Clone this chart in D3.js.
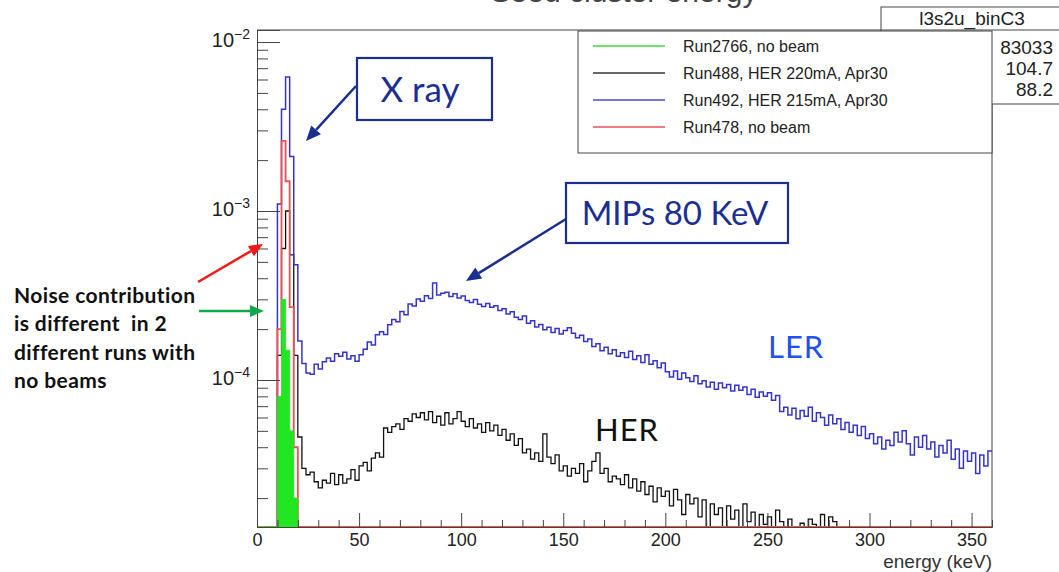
<!DOCTYPE html>
<html><head><meta charset="utf-8">
<script src="https://cdn.jsdelivr.net/npm/d3@7"></script>
<style>body{margin:0;background:#fff;} svg{display:block;font-family:"Liberation Sans",Arial,sans-serif;}</style>
</head><body>
<svg id="c" width="1059" height="572"></svg>
<script>
// ---------------- data (bin width 2 keV, values in units of 1e-5) ----------------
const binWidth = 2;
const nBins = 180;
const unit = 1e-5;
const energyDomain = [0, 360];
const countDomain = [1.349e-5, 1.178e-2];

// Run2766, no beam (green, filled)
const run2766 = [0,0,0,0,0, 8,30,15,5,2];
// Run478, no beam (red)
const run478 = [0,0,0,0,0, 20,260,150,27,4];
// Run488, HER 220mA, Apr30 (black)
const run488 = [0,0,0,0,0, 14,60,100,55,14,
 4.6,3.0,2.75,2.85,2.5,2.3,2.55,2.45,2.8,2.4,
 2.75,2.45,2.6,2.95,2.55,3.1,3.25,2.9,3.45,3.7,
 3.5,5.2,4.9,5.3,5.5,5.1,5.9,5.7,6.3,6.0,
 6.4,5.8,6.5,5.6,6.1,5.4,6.4,5.5,5.9,6.5,
 5.7,5.3,5.9,5.2,5.5,4.9,5.6,5.0,5.4,4.7,
 5.1,4.4,4.8,4.1,4.5,3.7,3.9,3.4,3.7,3.3,
 4.8,3.5,3.2,3.6,2.9,3.1,2.7,3.0,2.8,3.2,
 2.5,2.9,3.3,3.7,2.8,3.0,2.5,2.7,2.6,2.4,
 2.75,2.3,2.6,2.2,2.5,2.1,2.35,1.9,2.3,2.05,
 2.2,1.8,2.25,1.95,1.6,2.1,1.85,2.0,1.55,1.95,
 1.2,1.85,1.6,1.75,1.1,1.8,1.5,1.7,1.2,1.85,
 1.45,1.65,1.1,1.6,1.4,1.55,1.1,1.7,1.45,1.0,
 1.5,1.1,0,1.42,1.0,1.5,1.4,1.0,1.6,1.1,
 1.55,1.45];
// Run492, HER 215mA, Apr30 (blue, labelled LER)
const run492 = [0,0,0,0,0, 110,400,620,210,48,
 17,12.5,11,10.8,12.4,11.6,12.8,13.5,12.9,14.3,
 13.8,14.6,13.3,13.9,12.9,14.1,15.2,16.8,16.1,18.5,
 19.3,18.6,21.2,22.8,22.1,25.4,24.3,28.2,27.4,30.1,
 29.2,31.5,30.4,37.5,31.8,32.6,33.1,31.2,32.4,30.6,
 31.4,29.5,28.7,29.9,28.1,27.2,28.4,26.9,27.5,25.8,
 26.4,24.6,25.3,23.5,22.8,23.9,21.7,22.4,20.6,21.3,
 19.8,20.5,19.1,20.2,18.7,19.6,20.4,18.9,17.8,18.4,
 16.9,17.5,15.8,16.4,14.9,15.6,14.3,15.1,13.8,14.5,
 13.6,14.8,13.2,13.9,12.7,14.1,12.4,13.0,11.8,12.6,
 11.2,10.4,11.3,10.1,11.0,10.3,9.8,10.6,9.5,9.9,
 9.1,9.7,8.8,9.6,9.0,9.4,8.6,9.3,8.7,9.1,
 8.2,8.8,7.9,8.5,8.0,8.4,7.6,8.1,6.5,6.9,
 6.2,6.8,5.9,6.6,6.1,6.9,5.7,6.4,6.0,5.4,
 6.2,5.5,5.9,5.1,5.6,4.9,5.4,4.7,5.3,4.5,
 4.8,4.2,4.6,3.9,4.4,4.1,4.9,4.3,5.0,4.2,
 3.6,4.6,4.0,4.7,3.9,4.3,3.5,4.1,3.7,4.4,
 3.4,3.9,3.0,3.8,3.3,3.7,2.8,3.6,3.1,3.8];

const legendLabels = ["Run2766, no beam","Run488, HER 220mA, Apr30","Run492, HER 215mA, Apr30","Run478, no beam"];
const legendColors = ["#3ddc3d","#333333","#4a4ad8","#f05050"];
const statsTitle = "l3s2u_binC3";
const statsValues = ["83033","104.7","88.2"];

const xMajor = [0,50,100,150,200,250,300,350];
const xMinor = [10,20,30,40,60,70,80,90,110,120,130,140,160,170,180,190,210,220,230,240,260,270,280,290,310,320,330,340];
const yMajor = [1e-4,1e-3,1e-2];
const yMajorExp = ["\u22124","\u22123","\u22122"];
const yMinor = [2e-5,3e-5,4e-5,5e-5,6e-5,7e-5,8e-5,9e-5,2e-4,3e-4,4e-4,5e-4,6e-4,7e-4,8e-4,9e-4,2e-3,3e-3,4e-3,5e-3,6e-3,7e-3,8e-3,9e-3];

// ---------------- layout ----------------
const L = 257, R = 992, T = 30, B = 527;
const svg = d3.select("#c");
const x = d3.scaleLinear().domain(energyDomain).range([L, R]);
const y = d3.scaleLog().domain(countDomain).range([B, T]).clamp(true);

// title (cut off at the top in the reference)
svg.append("text").attr("x", 624).attr("y", 2).attr("text-anchor","middle")
  .attr("font-size", 30).attr("fill","#444").text("Seed cluster energy");

svg.append("defs").append("clipPath").attr("id","plot")
  .append("rect").attr("x",L).attr("y",T).attr("width",R-L).attr("height",B-T);

function pts(arr){
  const p = [];
  for (let i = 0; i < nBins; i++) p.push([i*binWidth, arr[i] || 0]);
  p.push([nBins*binWidth, arr[nBins-1] || 0]);
  return p;
}
const yv = v => y(Math.max(v*unit, countDomain[0]));
const line = d3.line().x(d => x(d[0])).y(d => yv(d[1])).curve(d3.curveStepAfter);
const area = d3.area().x(d => x(d[0])).y0(y(countDomain[0])).y1(d => yv(d[1])).curve(d3.curveStepAfter);

const plot = svg.append("g").attr("clip-path","url(#plot)");
plot.append("path").attr("d", line(pts(run488))).attr("fill","none").attr("stroke","#111").attr("stroke-width",1.3);
plot.append("path").attr("d", line(pts(run492))).attr("fill","none").attr("stroke","#3434cc").attr("stroke-width",1.5);
plot.append("path").attr("d", line(pts(run478))).attr("fill","none").attr("stroke","#f05050").attr("stroke-width",1.8);
plot.append("path").attr("d", area(pts(run2766))).attr("fill","#22e622").attr("stroke","#22e622").attr("stroke-width",0.8);

// frame
svg.append("line").attr("x1",L).attr("x2",R).attr("y1",T).attr("y2",T).attr("stroke","#444");
svg.append("line").attr("x1",R).attr("x2",R).attr("y1",T).attr("y2",B).attr("stroke","#444");

// axes
const fontAxis = 18;
const gx = svg.append("g").attr("transform",`translate(0,${B})`)
  .call(d3.axisBottom(x).tickValues(xMajor).tickSize(-14).tickPadding(6).tickFormat(d3.format("d")));
svg.append("g").attr("transform",`translate(0,${B})`)
  .call(d3.axisBottom(x).tickValues(xMinor).tickSize(-7).tickFormat(""));
const gy = svg.append("g").attr("transform",`translate(${L},0)`)
  .call(d3.axisLeft(y).tickValues(yMajor).tickSize(-23).tickPadding(7).tickFormat(""));
svg.append("g").attr("transform",`translate(${L},0)`)
  .call(d3.axisLeft(y).tickValues(yMinor).tickSize(-11).tickFormat(""));
svg.selectAll(".tick line").attr("stroke","#444");
svg.selectAll(".domain").attr("stroke","#444");
gx.selectAll(".domain").remove();
gx.selectAll("text").attr("font-size",fontAxis).attr("fill","#222").attr("font-family","Liberation Sans, Arial, sans-serif");
gy.selectAll(".tick text").each(function(d){
  const t = d3.select(this).text(null).attr("font-family","Liberation Sans, Arial, sans-serif")
    .attr("fill","#222").attr("dy","0.42em");
  t.append("tspan").attr("font-size",20).text("10");
  t.append("tspan").attr("font-size",14).attr("dy",-8).text(yMajorExp[yMajor.indexOf(d)]);
});
// red line along the bottom (empty bins of Run478 drawn on the axis)
plot.append("path").attr("d", line(pts(run478).filter(d => d[0] >= 20))).attr("fill","none").attr("stroke","#f05050").attr("stroke-width",1.8);

svg.append("text").attr("x",R).attr("y",568).attr("text-anchor","end")
  .attr("font-size",19).attr("fill","#333").text("energy (keV)");

// stats box
svg.append("rect").attr("x",881).attr("y",7).attr("width",200).attr("height",97)
  .attr("fill","#fff").attr("stroke","#444");
svg.append("line").attr("x1",881).attr("x2",1059).attr("y1",T).attr("y2",T).attr("stroke","#444");
svg.append("text").attr("x",972).attr("y",25).attr("text-anchor","middle").attr("font-size",19)
  .attr("fill","#222").text(statsTitle);
svg.selectAll(".sv").data(statsValues).join("text").attr("class","sv")
  .attr("x",1053).attr("y",(d,i)=>54+i*21).attr("text-anchor","end").attr("font-size",19)
  .attr("fill","#222").text(d=>d);

// legend
const lg = svg.append("g");
lg.append("rect").attr("x",578).attr("y",31).attr("width",R-578).attr("height",122)
  .attr("fill","#fff").attr("stroke","#444");
legendLabels.forEach((lab,i)=>{
  const yy = 46 + i*27;
  lg.append("line").attr("x1",593).attr("x2",665).attr("y1",yy).attr("y2",yy)
    .attr("stroke",legendColors[i]).attr("stroke-width",1.6);
  lg.append("text").attr("x",683).attr("y",yy+6).attr("font-size",16).attr("fill","#222").text(lab);
});

// ---------------- annotations ----------------
const navy = "#1b2f91";
function arrow(x1,y1,x2,y2,color,w,hl,hw){
  const a = Math.atan2(y2-y1,x2-x1);
  const bx = x2 - hl*Math.cos(a), by = y2 - hl*Math.sin(a);
  svg.append("line").attr("x1",x1).attr("y1",y1).attr("x2",bx).attr("y2",by)
    .attr("stroke",color).attr("stroke-width",w);
  const px = -Math.sin(a)*hw/2, py = Math.cos(a)*hw/2;
  svg.append("path").attr("d",`M${x2},${y2}L${bx+px},${by+py}L${bx-px},${by-py}Z`).attr("fill",color);
}
const calib = "Lato, 'Open Sans', sans-serif";
// X ray
svg.append("rect").attr("x",357).attr("y",58).attr("width",135).attr("height",62)
  .attr("fill","#fff").attr("stroke",navy).attr("stroke-width",2.2);
svg.append("text").attr("x",420).attr("y",102).attr("text-anchor","middle").attr("font-family",calib)
  .attr("font-size",35).attr("fill",navy).text("X ray");
arrow(356,86,306,141,navy,2.5,15,13);
// MIPs
svg.append("rect").attr("x",566).attr("y",183).attr("width",222).attr("height",60)
  .attr("fill","#fff").attr("stroke",navy).attr("stroke-width",2.2);
svg.append("text").attr("x",675).attr("y",225).attr("text-anchor","middle").attr("font-family",calib)
  .attr("font-size",33).attr("fill",navy).text("MIPs 80 KeV");
arrow(566,219,466,281,navy,2.5,15,13);
// LER / HER
svg.append("text").attr("x",768).attr("y",358).attr("font-family",calib).attr("font-size",31)
  .attr("letter-spacing",1).attr("fill","#2050f0").text("LER");
svg.append("text").attr("x",595).attr("y",441).attr("font-family",calib).attr("font-size",31)
  .attr("letter-spacing",1).attr("fill","#111").text("HER");
// noise note
const note = ["Noise contribution","is different  in 2","different runs with","no beams"];
note.forEach((s,i)=>{
  svg.append("text").attr("x",14).attr("y",303+i*28.4).attr("font-family",calib)
    .attr("font-weight","bold").attr("font-size",21).attr("letter-spacing",0.4).attr("fill","#111")
    .style("white-space","pre").text(s);
});
arrow(198,282,263,244,"#f01a1a",2.5,14,12);
arrow(199,311,264,311,"#10a84a",2.5,14,12);
</script>
</body></html>
